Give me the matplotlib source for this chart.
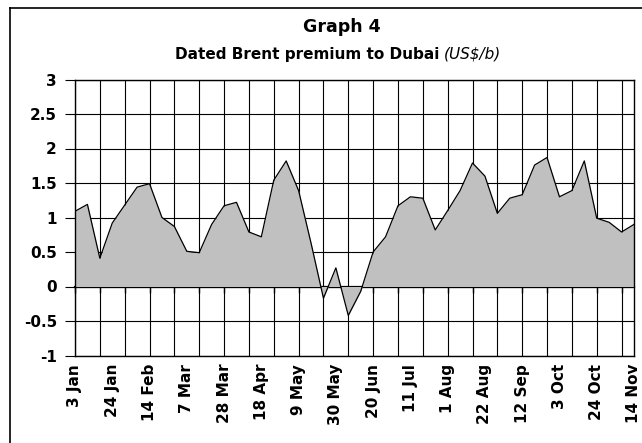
import matplotlib
matplotlib.use('Agg')
import matplotlib.pyplot as plt
from matplotlib.lines import Line2D
import numpy as np

plt.rcParams['font.family'] = 'DejaVu Sans'
plt.rcParams['axes.unicode_minus'] = False

# weekly Brent-Dubai spread, first week 3 Jan, last week 14 Nov
premium = [1.09, 1.19, 0.41, 0.92, 1.18, 1.44, 1.49, 1.00, 0.87, 0.51,
           0.49, 0.90, 1.17, 1.22, 0.79, 0.72, 1.54, 1.82, 1.39, 0.63,
           -0.17, 0.27, -0.42, -0.07, 0.50, 0.72, 1.17, 1.30, 1.28, 0.82,
           1.10, 1.39, 1.79, 1.60, 1.06, 1.28, 1.33, 1.76, 1.87, 1.30,
           1.39, 1.82, 0.99, 0.93, 0.79, 0.90]
tick_labels = ['3 Jan', '24 Jan', '14 Feb', '7 Mar', '28 Mar', '18 Apr',
               '9 May', '30 May', '20 Jun', '11 Jul', '1 Aug', '22 Aug',
               '12 Sep', '3 Oct', '24 Oct', '14 Nov']
y_ticks = [-1, -0.5, 0, 0.5, 1, 1.5, 2, 2.5, 3]
y_labels = ['-1', '-0.5', '0', '0.5', '1', '1.5', '2', '2.5', '3']

W, H = 642, 443
fig = plt.figure(figsize=(W / 100, H / 100), dpi=100)
ax = fig.add_axes([75 / W, 1 - 355.5 / H, 559 / W, 276 / H])

x = np.arange(len(premium))
ax.fill_between(x, 0, premium, color='#c0c0c0', lw=0, zorder=2)
ax.plot(x, premium, color='black', lw=0.9, zorder=3)

ax.set_xlim(0, len(premium) - 1)
ax.set_ylim(-1, 3)

# labels every 3 weeks, gridlines every 2 weeks
ax.set_xticks(x[::3])
ax.set_xticklabels(tick_labels, rotation=90, fontsize=11, fontweight='bold')
ax.set_xticks(x[::2], minor=True)
ax.xaxis.remove_overlapping_locs = False
ax.tick_params(axis='x', which='both', length=0, pad=6)
ax.grid(True, axis='x', which='minor', color='black', lw=0.8, zorder=1)

ax.set_yticks(y_ticks)
ax.set_yticklabels(y_labels, fontsize=11, fontweight='bold')
ax.tick_params(axis='y', length=7, width=0.8, pad=6)
ax.grid(True, axis='y', which='major', color='black', lw=0.8, zorder=1)
ax.set_axisbelow(True)

for s in ax.spines.values():
    s.set_linewidth(1.0)

# zero axis with its tick marks
zero = ax.secondary_xaxis(0.25)
zero.set_xticks(x[::2])
zero.tick_params(direction='out', length=4, width=1.0, labelbottom=False)
zero.spines['bottom'].set_linewidth(1.6)

# titles
fig.text(342 / W, 1 - 27 / H, 'Graph 4', ha='center', va='center',
         fontsize=12.5, fontweight='bold')
t1 = fig.text(0, 1 - 54 / H, 'Dated Brent premium to Dubai ', ha='left',
              va='center', fontsize=11, fontweight='bold')
t2 = fig.text(0, 1 - 54 / H, '(US$/b)', ha='left', va='center',
              fontsize=11, fontstyle='italic')
r = fig.canvas.get_renderer()
w1 = t1.get_window_extent(r).width
w2 = t2.get_window_extent(r).width
start = 338 - (w1 + w2) / 2
t1.set_x(start / W)
t2.set_x((start + w1) / W)

# chart border (top and left visible)
fig.add_artist(Line2D([10 / W, 1], [1 - 8 / H, 1 - 8 / H], color='black', lw=1.2))
fig.add_artist(Line2D([10 / W, 10 / W], [0, 1 - 8 / H], color='black', lw=1.2))

fig.savefig('out.png', dpi=100)
